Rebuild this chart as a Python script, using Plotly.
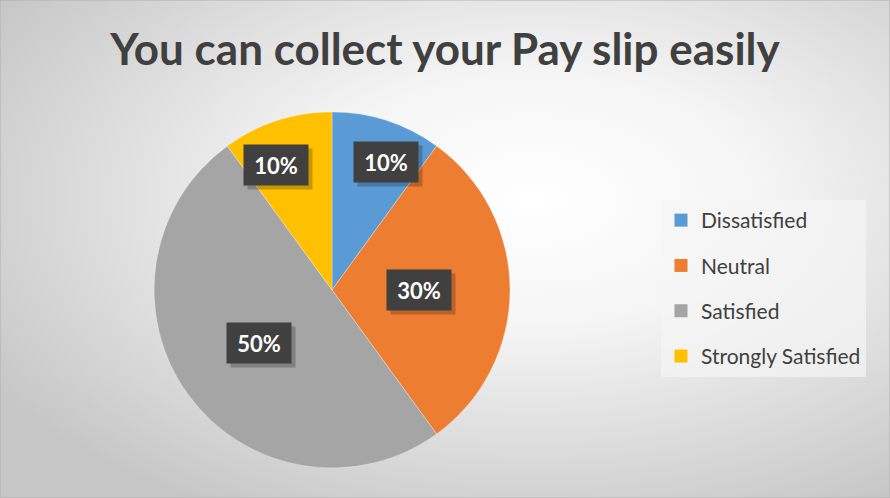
import base64, math
import plotly.graph_objects as go

categories = ["Dissatisfied", "Neutral", "Satisfied", "Strongly Satisfied"]
values = [10, 30, 50, 10]
colors = ["#5B9BD5", "#ED7D31", "#A5A5A5", "#FFC000"]
title_text = "You can collect your Pay slip easily"

W, H = 890, 498
# pie geometry (pixels)
CX, CY, R = 332, 290, 178
label_radius = [0.78, 0.49, 0.51, 0.77]
label_shift_deg = [5, 0, 0, -6]

svg = (
    f"<svg xmlns='http://www.w3.org/2000/svg' width='{W}' height='{H}'>"
    "<defs><radialGradient id='g' cx='0.6' cy='0.4' r='0.72'>"
    "<stop offset='0' stop-color='#ffffff'/>"
    "<stop offset='0.35' stop-color='#f5f5f5'/>"
    "<stop offset='1' stop-color='#c6c6c6'/>"
    "</radialGradient></defs>"
    f"<rect width='{W}' height='{H}' fill='url(#g)'/></svg>"
)
bg_uri = "data:image/svg+xml;base64," + base64.b64encode(svg.encode()).decode()

fig = go.Figure()
fig.add_trace(go.Pie(
    labels=categories, values=values, sort=False, direction="clockwise", rotation=0,
    marker=dict(colors=colors, line=dict(color="rgba(255,255,255,0.6)", width=0.5)),
    textinfo="none", showlegend=False, hoverinfo="label+percent",
    domain=dict(x=[(CX - R) / W, (CX + R) / W], y=[1 - (CY + R) / H, 1 - (CY - R) / H]),
))

for name, col in zip(categories, colors):
    fig.add_trace(go.Scatter(
        x=[None], y=[None], mode="markers", name=name, legendgroup=name,
        marker=dict(symbol="square", size=13, color=col),
    ))

total = sum(values)
cum = 0
annotations = []
for v, rf, sh in zip(values, label_radius, label_shift_deg):
    theta = (cum + v / 2) / total * 2 * math.pi + math.radians(sh)
    cum += v
    px = CX + rf * R * math.sin(theta)
    py = CY - rf * R * math.cos(theta)
    txt = f"{round(v / total * 100)}%"
    # shadow box
    annotations.append(dict(
        x=(px + 4) / W, y=1 - (py + 4) / H, xref="paper", yref="paper",
        xanchor="center", yanchor="middle", width=48, height=24,
        text=" ", showarrow=False, bgcolor="rgba(0,0,0,0.22)", borderpad=8,
        font=dict(family="Lato", size=22, color="rgba(0,0,0,0)"),
    ))
    annotations.append(dict(
        x=px / W, y=1 - py / H, xref="paper", yref="paper",
        xanchor="center", yanchor="middle", width=48, height=24,
        text=f"<b>{txt}</b>", showarrow=False, bgcolor="#404040", borderpad=8,
        font=dict(family="Lato", size=22, color="white"),
    ))

fig.update_layout(
    width=W, height=H,
    margin=dict(l=0, r=0, t=0, b=0),
    paper_bgcolor="#e6e6e6", plot_bgcolor="rgba(0,0,0,0)",
    title=dict(text=f"<b>{title_text}</b>", x=0.5, xanchor="center", y=1 - 50 / H, yanchor="middle",
               font=dict(family="Lato", size=44, color="#404040")),
    xaxis=dict(visible=False), yaxis=dict(visible=False),
    legend=dict(x=661 / W, y=1 - 200 / H, xanchor="left", yanchor="top",
                bgcolor="rgba(245,245,245,0.7)", font=dict(family="Lato", size=21, color="#404040"),
                tracegroupgap=15, traceorder="grouped", itemclick=False),
    annotations=annotations,
    images=[dict(source=bg_uri, xref="paper", yref="paper", x=0, y=1, sizex=1, sizey=1,
                 xanchor="left", yanchor="top", sizing="stretch", layer="below")],
    shapes=[dict(type="rect", xref="paper", yref="paper", x0=0, y0=0, x1=1, y1=1,
                 line=dict(color="#b0b0b0", width=1), fillcolor="rgba(0,0,0,0)")],
)

fig.write_html("out.html", config={"displayModeBar": False},
               post_script="document.body.style.margin='0';document.body.style.overflow='hidden';")
